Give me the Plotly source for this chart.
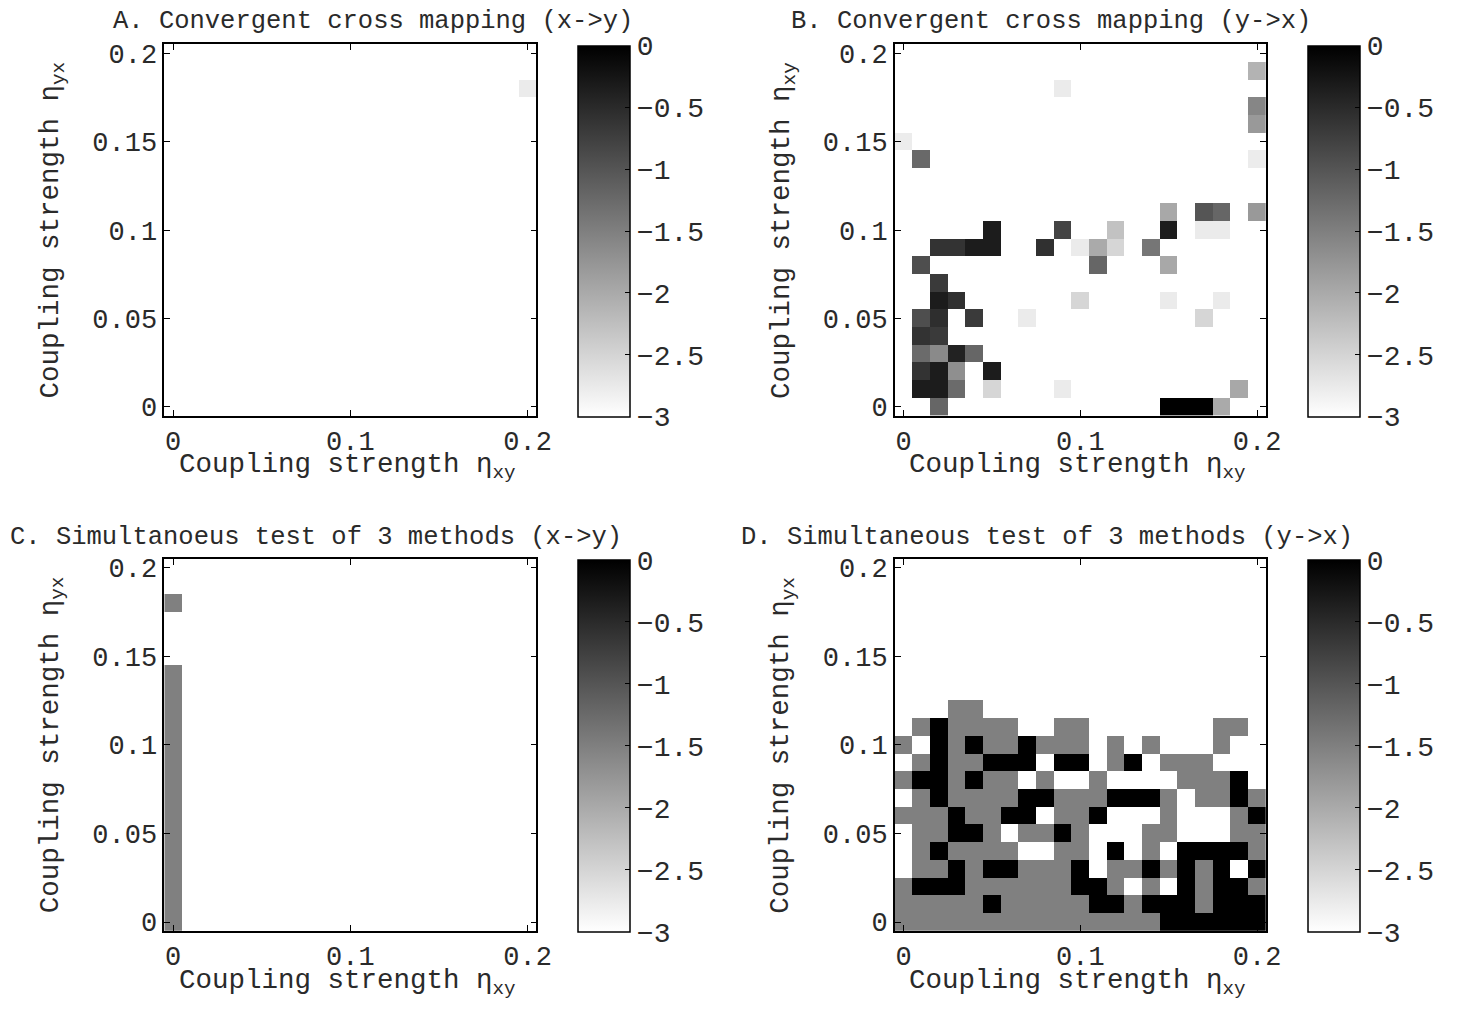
import plotly.graph_objects as go
import math

W, H = 1468, 1009
FONT = "Liberation Mono"
TXT = "#2a2a2a"

# grid of coupling strengths (cell centres)
eta = [0.00, 0.01, 0.02, 0.03, 0.04, 0.05, 0.06, 0.07, 0.08, 0.09, 0.10,
       0.11, 0.12, 0.13, 0.14, 0.15, 0.16, 0.17, 0.18, 0.19, 0.20]

x_ticks = [0, 0.1, 0.2]
x_ticktext = ["0", "0.1", "0.2"]
y_ticks = [0, 0.05, 0.1, 0.15, 0.2]
y_ticktext = ["0", "0.05", "0.1", "0.15", "0.2"]
cb_ticks = [0, -0.5, -1, -1.5, -2, -2.5, -3]
cb_ticktext = ["0", "\u22120.5", "\u22121", "\u22121.5", "\u22122", "\u22122.5", "\u22123"]

# Panel A: non-empty cells (eta_xy, eta_yx, value)
A_cells = [(0.20, 0.18, -2.76)]

# Panel B: non-empty cells (eta_xy, eta_xy(y), value)
B_cells = [
    (0.20, 0.19, -2.10),
    (0.09, 0.18, -2.76),
    (0.20, 0.17, -1.58),
    (0.20, 0.16, -1.80),
    (0.00, 0.15, -2.78),
    (0.01, 0.14, -1.24), (0.20, 0.14, -2.78),
    (0.15, 0.11, -1.98), (0.17, 0.11, -1.00), (0.18, 0.11, -1.20), (0.20, 0.11, -1.80),
    (0.05, 0.10, -0.33), (0.09, 0.10, -0.80), (0.12, 0.10, -2.28), (0.15, 0.10, -0.33),
    (0.17, 0.10, -2.76), (0.18, 0.10, -2.76),
    (0.02, 0.09, -0.60), (0.03, 0.09, -0.60), (0.04, 0.09, -0.33), (0.05, 0.09, -0.33),
    (0.08, 0.09, -0.56), (0.10, 0.09, -2.76), (0.11, 0.09, -2.00), (0.12, 0.09, -2.52),
    (0.14, 0.09, -1.39),
    (0.01, 0.08, -0.92), (0.11, 0.08, -1.20), (0.15, 0.08, -1.98),
    (0.02, 0.07, -0.68),
    (0.02, 0.06, -0.33), (0.03, 0.06, -0.56), (0.10, 0.06, -2.52), (0.15, 0.06, -2.76),
    (0.18, 0.06, -2.76),
    (0.01, 0.05, -0.92), (0.02, 0.05, -0.54), (0.04, 0.05, -0.68), (0.07, 0.05, -2.76),
    (0.17, 0.05, -2.52),
    (0.01, 0.04, -0.60), (0.02, 0.04, -0.68),
    (0.01, 0.03, -1.26), (0.02, 0.03, -1.62), (0.03, 0.03, -0.40), (0.04, 0.03, -1.20),
    (0.01, 0.02, -0.60), (0.02, 0.02, -0.33), (0.03, 0.02, -1.68), (0.05, 0.02, -0.33),
    (0.01, 0.01, -0.33), (0.02, 0.01, -0.33), (0.03, 0.01, -1.26), (0.05, 0.01, -2.52),
    (0.09, 0.01, -2.76), (0.19, 0.01, -1.98),
    (0.02, 0.00, -1.20), (0.15, 0.00, 0.00), (0.16, 0.00, 0.00), (0.17, 0.00, 0.00),
    (0.18, 0.00, -2.00),
]

# Panel C: non-empty cells
C_cells = [
    (0.00, 0.18, -1.5),
    (0.00, 0.14, -1.5), (0.00, 0.13, -1.5), (0.00, 0.12, -1.5), (0.00, 0.11, -1.5),
    (0.00, 0.10, -1.5), (0.00, 0.09, -1.5), (0.00, 0.08, -1.5), (0.00, 0.07, -1.5),
    (0.00, 0.06, -1.5), (0.00, 0.05, -1.5), (0.00, 0.04, -1.5), (0.00, 0.03, -1.5),
    (0.00, 0.02, -1.5), (0.00, 0.01, -1.5), (0.00, 0.00, -1.5),
]

# Panel D: full grid, rows from eta_yx = 0.20 (top) down to 0.00 (bottom)
D_levels = {"K": 0.0, "G": -1.5, "W": -3.0}
D_rows = [
    "WWWWWWWWWWWWWWWWWWWWW",  # 0.20
    "WWWWWWWWWWWWWWWWWWWWW",  # 0.19
    "WWWWWWWWWWWWWWWWWWWWW",  # 0.18
    "WWWWWWWWWWWWWWWWWWWWW",  # 0.17
    "WWWWWWWWWWWWWWWWWWWWW",  # 0.16
    "WWWWWWWWWWWWWWWWWWWWW",  # 0.15
    "WWWWWWWWWWWWWWWWWWWWW",  # 0.14
    "WWWWWWWWWWWWWWWWWWWWW",  # 0.13
    "WWWGGWWWWWWWWWWWWWWWW",  # 0.12
    "WGKGGGGWWGGWWWWWWWGGW",  # 0.11
    "GWKGKGGKGGGWGWGWWWGWW",  # 0.10
    "WGKGGKKKWKKWGKWGGGWWW",  # 0.09
    "GKKGKGGWGWWGWWWWGGGKW",  # 0.08
    "WGKGGGGKKGGGKKKGWGGKG",  # 0.07
    "GGGKGGKKWGGKWWWGWWWGK",  # 0.06
    "WGGKKGWGGKGWWWGGWWWGG",  # 0.05
    "WGKGGGGWWGGWKWGWKKKKG",  # 0.04
    "WGGKGKKGGGKWGGKGKGKWK",  # 0.03
    "GKKKGGGGGGKKGWGWKGKKG",  # 0.02
    "GGGGGKGGGGGKKGKKKGKKK",  # 0.01
    "GGGGGGGGGGGGGGGKKKKKK",  # 0.00
]


def sparse_grid(cells):
    z = [[math.nan for _ in eta] for _ in eta]
    for xv, yv, v in cells:
        z[round(yv * 100)][round(xv * 100)] = v
    return z


zA = sparse_grid(A_cells)
zB = sparse_grid(B_cells)
zC = sparse_grid(C_cells)
zD = [[D_levels[c] for c in row] for row in reversed(D_rows)]


def px_x(p):
    return p / W


def px_y(p):
    return 1 - p / H


panels = [
    # z, x-domain px, y-domain px, colorbar left px, title, title pos, ylabel sub
    (zA, (166, 542), (41, 417), 584, "A. Convergent cross mapping (x->y)", (112, 18), "yx"),
    (zB, (904, 1279), (41, 417), 1321, "B. Convergent cross mapping (y->x)", (797, 18), "xy"),
    (zC, (166, 542), (562, 939), 584, "C. Simultanoeus test of 3 methods (x->y)", (8, 540), "yx"),
    (zD, (904, 1279), (562, 939), 1321, "D. Simultaneous test of 3 methods (y->x)", (747, 540), "yx"),
]

fig = go.Figure()
annotations = []
colorscale = [[0.0, "#ffffff"], [1.0, "#000000"]]

for i, (z, xd, yd, cbx, title, tpos, ysub) in enumerate(panels, start=1):
    xa = "x" if i == 1 else f"x{i}"
    ya = "y" if i == 1 else f"y{i}"
    fig.add_trace(go.Heatmap(
        z=z, x=eta, y=eta, xaxis=xa, yaxis=ya,
        zmin=-3, zmax=0, colorscale=colorscale, hoverongaps=False,
        colorbar=dict(
            x=px_x(cbx), xanchor="left", xref="paper",
            y=px_y((yd[0] + yd[1]) / 2 + 1), yanchor="middle",
            len=(yd[1] - yd[0]) / H, lenmode="fraction",
            thickness=52, thicknessmode="pixels",
            outlinewidth=1.5, outlinecolor="black",
            xpad=0, ypad=0,
            tickmode="array", tickvals=cb_ticks, ticktext=cb_ticktext,
            ticks="inside", ticklen=5, tickwidth=1.2, tickcolor="black",
            tickfont=dict(family=FONT, size=28, color=TXT),
        ),
    ))
    axx = dict(
        domain=[px_x(xd[0]), px_x(xd[1])], anchor=ya,
        range=[-0.005, 0.205], tickmode="array", tickvals=x_ticks, ticktext=x_ticktext,
        ticks="inside", ticklen=6, tickwidth=1.2, tickcolor="black",
        showline=True, linecolor="black", linewidth=1.5, mirror="allticks",
        showgrid=False, zeroline=False,
        tickfont=dict(family=FONT, size=27, color=TXT),
    )
    axy = dict(
        domain=[px_y(yd[1]), px_y(yd[0])], anchor=xa,
        range=[-0.005, 0.205], tickmode="array", tickvals=y_ticks, ticktext=y_ticktext,
        ticks="inside", ticklen=6, tickwidth=1.2, tickcolor="black",
        showline=True, linecolor="black", linewidth=1.5, mirror="allticks",
        showgrid=False, zeroline=False,
        tickfont=dict(family=FONT, size=27, color=TXT),
    )
    fig.update_layout({("xaxis" if i == 1 else f"xaxis{i}"): axx,
                       ("yaxis" if i == 1 else f"yaxis{i}"): axy})

    annotations.append(dict(
        text=title, x=px_x(tpos[0]), y=px_y(tpos[1]), xref="paper", yref="paper",
        xanchor="left", yanchor="middle", showarrow=False,
        font=dict(family=FONT, size=25.5, color=TXT)))
    annotations.append(dict(
        text="Coupling strength \u03b7<sub>xy</sub>",
        x=px_x((xd[0] + xd[1]) / 2 - 3), y=px_y(yd[1] + 52), xref="paper", yref="paper",
        xanchor="center", yanchor="middle", showarrow=False,
        font=dict(family=FONT, size=27.5, color=TXT)))
    annotations.append(dict(
        text=f"Coupling strength \u03b7<sub>{ysub}</sub>",
        x=px_x(xd[0] - 113), y=px_y((yd[0] + yd[1]) / 2), xref="paper", yref="paper",
        xanchor="center", yanchor="middle", textangle=-90, showarrow=False,
        font=dict(family=FONT, size=27.5, color=TXT)))

fig.update_layout(
    width=W, height=H, margin=dict(l=0, r=0, t=0, b=0, pad=0),
    paper_bgcolor="white", plot_bgcolor="white",
    annotations=annotations, showlegend=False,
)

fig.write_html("out.html", config={"displayModeBar": False},
               post_script="document.body.style.margin='0';")
